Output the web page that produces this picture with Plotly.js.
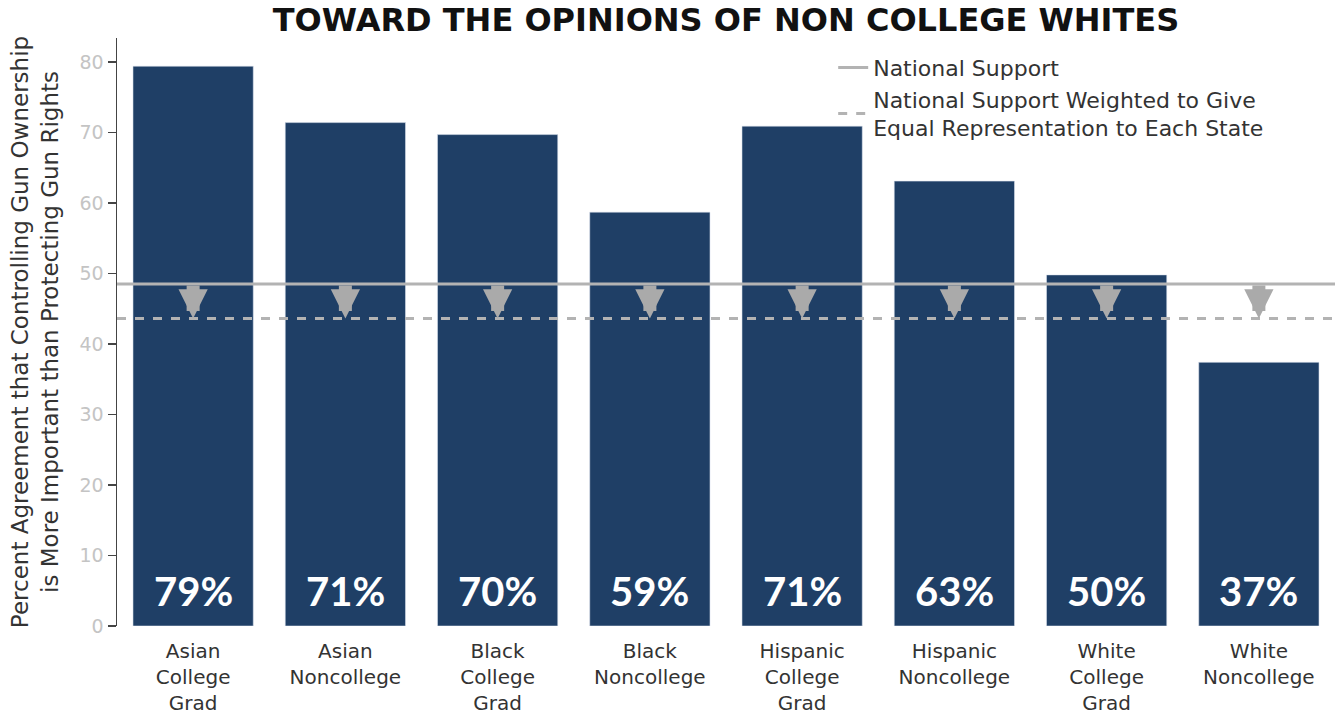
<!DOCTYPE html>
<html>
<head>
<meta charset="utf-8">
<script src="https://cdn.plot.ly/plotly-3.0.1.min.js"></script>
<style>
    html, body { margin: 0; padding: 0; background: #fff; }
    #chart { width: 1338px; height: 715px; }
</style>
</head>
<body>
<div id="chart"></div>
<script>
// Groups shown along the x axis
const groups = [
    "Asian<br>College<br>Grad",
    "Asian<br>Noncollege",
    "Black<br>College<br>Grad",
    "Black<br>Noncollege",
    "Hispanic<br>College<br>Grad",
    "Hispanic<br>Noncollege",
    "White<br>College<br>Grad",
    "White<br>Noncollege"
];

// Percent agreement per group
const agreement = [79.4, 71.4, 69.7, 58.7, 70.9, 63.1, 49.8, 37.4];

// Reference lines
const nationalSupport = 48.5;
const nationalWeighted = 43.6;

const legendNames = [
    "National Support",
    "National Support Weighted to Give<br>Equal Representation to Each State"
];

const chartTitle = "TOWARD THE OPINIONS OF NON COLLEGE WHITES";
const yTitle = "Percent Agreement that Controlling Gun Ownership<br>is More Important than Protecting Gun Rights";

const NAVY = "#1f3f66";
const GREY = "#b3b3b3";
const TEXT_FONT = "DejaVu Sans, Noto Sans, sans-serif";
const BOLD_FONT = "Lato, Open Sans, sans-serif";

const bars = {
    type: "bar",
    x: groups,
    y: agreement,
    width: 0.79,
    marker: {
        color: NAVY,
        line: { color: "rgba(220,228,238,0.7)", width: 0.8 }
    },
    hoverinfo: "skip",
    showlegend: false
};

// Percent labels sitting at the foot of each bar
const valueLabels = groups.map((g, i) => ({
    x: i,
    y: 0,
    xref: "x",
    yref: "y",
    yanchor: "bottom",
    yshift: 9,
    text: Math.round(agreement[i]) + "%",
    showarrow: false,
    font: { family: BOLD_FONT, size: 40, color: "#ffffff", weight: 700 }
}));

// Grey arrows from national support down to the weighted value
const arrows = groups.map((g, i) => ({
    x: i,
    y: nationalWeighted,
    ax: i,
    ay: nationalSupport,
    xref: "x",
    yref: "y",
    axref: "x",
    ayref: "y",
    text: "",
    showarrow: true,
    arrowhead: 2,
    arrowwidth: 13,
    arrowsize: 0.45,
    arrowcolor: "#aaaaaa",
    standoff: 0,
    startstandoff: 0
}));

const shapes = [
    {
        type: "line",
        xref: "paper",
        x0: 0,
        x1: 1,
        yref: "y",
        y0: nationalSupport,
        y1: nationalSupport,
        line: { color: GREY, width: 3 },
        layer: "above",
        showlegend: true,
        name: legendNames[0]
    },
    {
        type: "line",
        xref: "paper",
        x0: 0,
        x1: 1,
        yref: "y",
        y0: nationalWeighted,
        y1: nationalWeighted,
        line: { color: GREY, width: 3, dash: "dash" },
        layer: "above",
        showlegend: true,
        name: legendNames[1]
    }
];

const layout = {
    width: 1338,
    height: 715,
    paper_bgcolor: "#ffffff",
    plot_bgcolor: "#ffffff",

    margin: { t: 38, r: 3, b: 89, l: 117 },

    font: { family: TEXT_FONT, size: 22, color: "#333333" },

    title: {
        text: chartTitle,
        font: { family: "DejaVu Sans, sans-serif", size: 32, color: "#111111", weight: 700 },
        xref: "paper",
        x: 0.5,
        yref: "container",
        y: 0.988,
        yanchor: "top",
        pad: { t: 0 }
    },

    xaxis: {
        type: "category",
        range: [-0.5, groups.length - 0.5],
        showline: false,
        showgrid: false,
        zeroline: false,
        ticks: "",
        ticklabelstandoff: 11,
        tickfont: { family: TEXT_FONT, size: 20, color: "#333333" },
        fixedrange: true
    },

    yaxis: {
        range: [0, 83.4],
        dtick: 10,
        showgrid: false,
        zeroline: false,
        showline: true,
        linecolor: "#444444",
        linewidth: 1.5,
        ticks: "outside",
        ticklen: 8,
        tickwidth: 1.5,
        tickcolor: "#444444",
        tickfont: { family: TEXT_FONT, size: 19, color: "#c4c4c4" },
        title: {
            text: yTitle,
            font: { family: TEXT_FONT, size: 23, color: "#333333" },
            standoff: 14
        },
        automargin: false,
        fixedrange: true
    },

    legend: {
        x: 0.588,
        xanchor: "left",
        y: 0.985,
        yanchor: "top",
        bgcolor: "rgba(0,0,0,0)",
        font: { family: TEXT_FONT, size: 22, color: "#333333" },
        tracegroupgap: 4,
        valign: "middle"
    },

    bargap: 0.21,
    shapes: shapes,
    annotations: arrows.concat(valueLabels)
};

Plotly.newPlot("chart", [bars], layout, {
    displayModeBar: false,
    staticPlot: true
});
</script>
</body>
</html>
